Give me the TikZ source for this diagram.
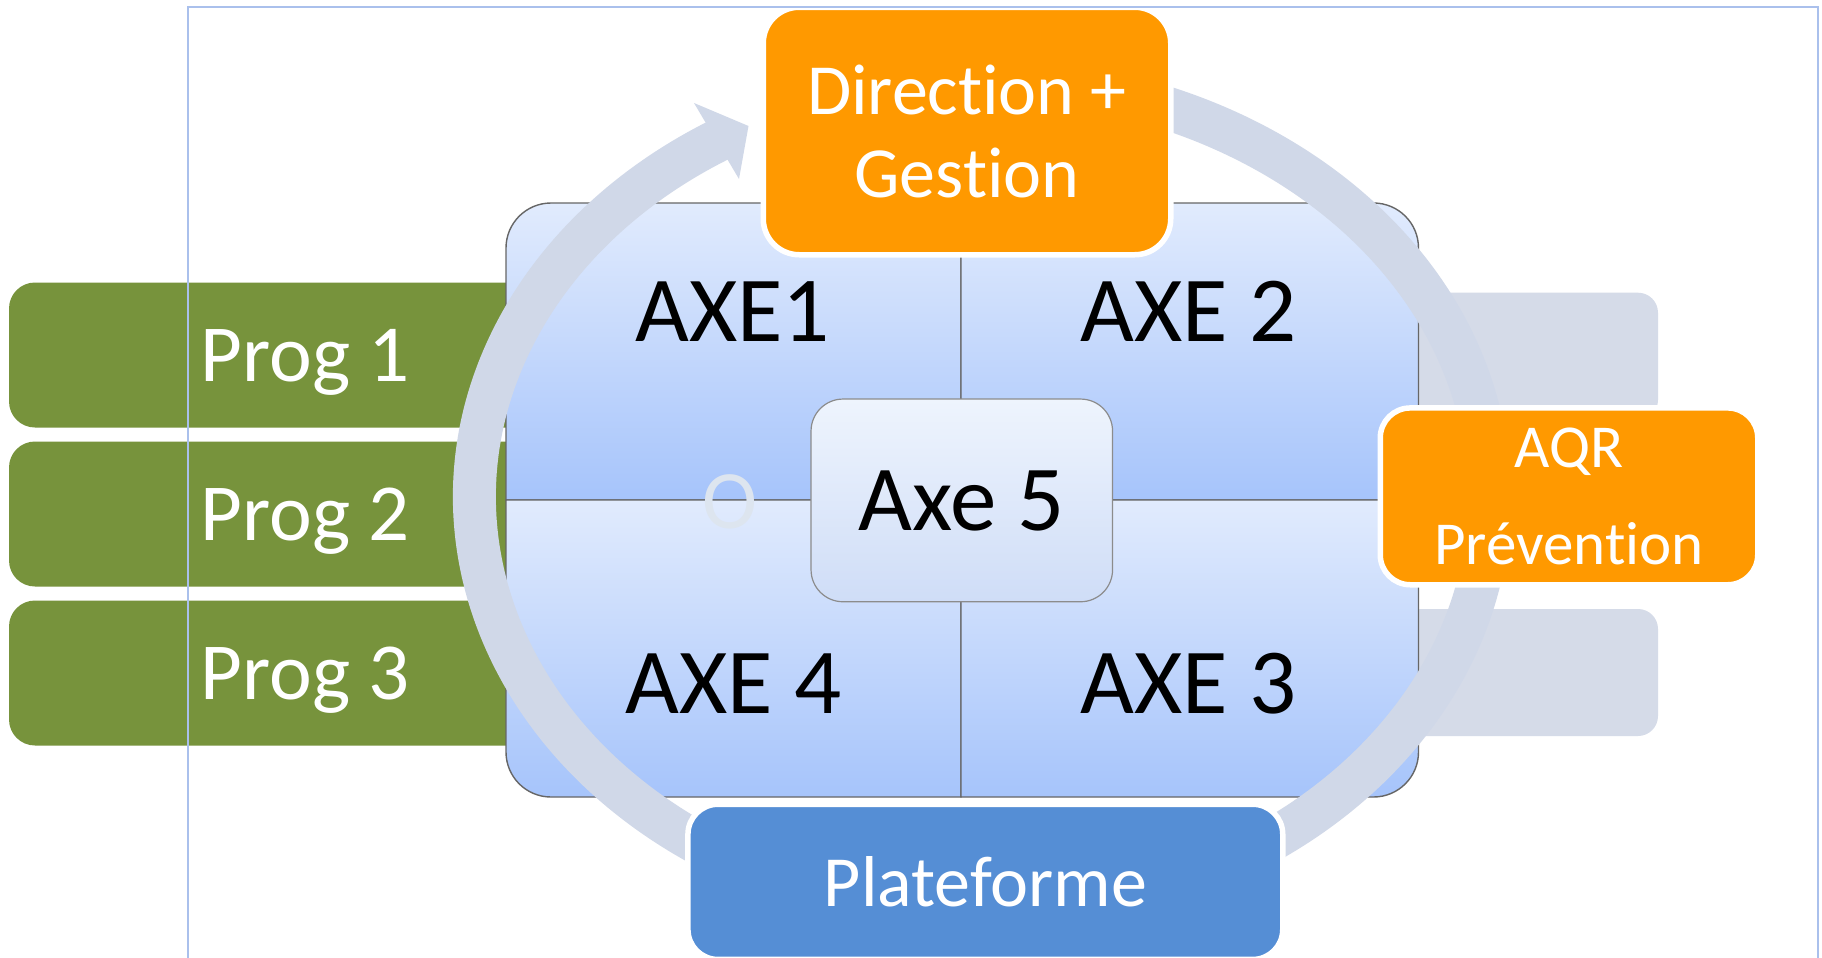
\documentclass[tikz,border=0pt]{standalone}
\usepackage{fontspec}
\setmainfont{Carlito}[Ligatures=NoCommon]
\definecolor{ringc}{RGB}{208,216,232}
\definecolor{greenc}{RGB}{119,147,60}
\definecolor{orangec}{RGB}{255,153,0}
\definecolor{platc}{RGB}{85,142,213}
\definecolor{quadtop}{RGB}{225,235,253}
\definecolor{quadbot}{RGB}{166,196,251}
\definecolor{axetop}{RGB}{238,244,253}
\definecolor{axebot}{RGB}{207,221,247}
\definecolor{grayrect}{RGB}{213,219,232}
\definecolor{framec}{RGB}{170,192,236}
\definecolor{fainto}{RGB}{221,229,239}
\begin{document}
\begin{tikzpicture}[x=0.5pt,y=-0.5pt,
  box/.style={rectangle, inner sep=0pt, outer sep=0pt, text depth=0pt},
  progbox/.style={box, fill=greenc, text=white, minimum width=296pt, minimum height=72.5pt, rounded corners=13pt, font=\fontsize{40.5}{48}\selectfont},
  axetext/.style={anchor=base, inner sep=0pt, text=black, font=\fontsize{46.5}{56}\selectfont},
  quad/.style={top color=quadtop, bottom color=quadbot, draw=black!60, line width=0.7pt},
  placeholder/.style={box, fill=grayrect, rounded corners=10pt},
  ring/.style={draw=ringc, line width=21.5pt},
  keybox/.style={box, draw=white, line width=2.75pt, text=white, align=center},
  frameline/.style={draw=framec, line width=0.8pt}
]
\useasboundingbox (0,0) rectangle (1822,958);
\fill[white] (0,0) rectangle (1822,958);

% programme bars
\node[progbox] (prog1) at (305,355) {Prog 1};
\node[progbox] (prog2) at (305,514) {Prog 2};
\node[progbox] (prog3) at (305,673) {Prog 3};

% grey placeholders on the right
\node[placeholder, minimum width=179pt, minimum height=63.65pt] (ph1) at (1479,356.35) {};
\node[placeholder, minimum width=179pt, minimum height=63.5pt] (ph2) at (1479,672.5) {};

% matrix quadrants
\path[quad] (961,203) -- (551,203) .. controls (526.15,203) and (506,223.15) .. (506,248) -- (506,500) -- (961,500) -- cycle;
\path[quad] (961,203) -- (1373.5,203) .. controls (1398.35,203) and (1418.5,223.15) .. (1418.5,248) -- (1418.5,500) -- (961,500) -- cycle;
\path[quad] (506,500) -- (506,752) .. controls (506,776.85) and (526.15,797) .. (551,797) -- (961,797) -- (961,500) -- cycle;
\path[quad] (961,500) -- (1418.5,500) -- (1418.5,752) .. controls (1418.5,776.85) and (1398.35,797) .. (1373.5,797) -- (961,797) -- cycle;

% centre box
\node[box, top color=axetop, bottom color=axebot, draw=black!45, line width=0.6pt, rounded corners=16pt, minimum width=150.75pt, minimum height=101.35pt, font=\fontsize{46.5}{56}\selectfont] (axe5) at (961.8,500.4) {Axe 5};

% quadrant labels
\node[axetext] (axe1) at (732.5,341.7) {AXE1};
\node[axetext] (axe2) at (1188.5,341.7) {AXE 2};
\node[axetext] (axe4) at (733.5,713.3) {AXE 4};
\node[axetext] (axe3) at (1188.5,713.3) {AXE 3};
\node[anchor=base, inner sep=0pt, text=fainto, font=\fontsize{41.5}{50}\selectfont] (faint) at (730,528) {O};

% cycle arrow
\draw[ring] (982,497) ++(115:507.5 and 417.5) arc[start angle=115, end angle=239, x radius=507.5, y radius=417.5];
\fill[ringc] (694,103) -- (748.5,126) -- (739,179) -- cycle;
\draw[ring] (982,497) ++(260:507.5 and 417.5) arc[start angle=260, end angle=430, x radius=507.5, y radius=417.5];

% key boxes
\node[keybox, fill=orangec, minimum width=203.75pt, minimum height=123.75pt, rounded corners=18pt, font=\fontsize{36}{41.3}\selectfont] (direction) at (967,131) {Direction +\\Gestion};
\node[keybox, fill=orangec, minimum width=188.75pt, minimum height=88.4pt, rounded corners=15pt, font=\fontsize{30.5}{48.8}\selectfont] (aqr) at (1569,496.35) {AQR\\Prévention};
\node[keybox, fill=platc, minimum width=297.4pt, minimum height=77.6pt, rounded corners=15pt, font=\fontsize{36}{43}\selectfont] (plateforme) at (985.35,881.85) {Plateforme};

% thin frame
\draw[frameline] (188,958) -- (188,7) -- (1818,7) -- (1818,958);
\end{tikzpicture}
\end{document}
